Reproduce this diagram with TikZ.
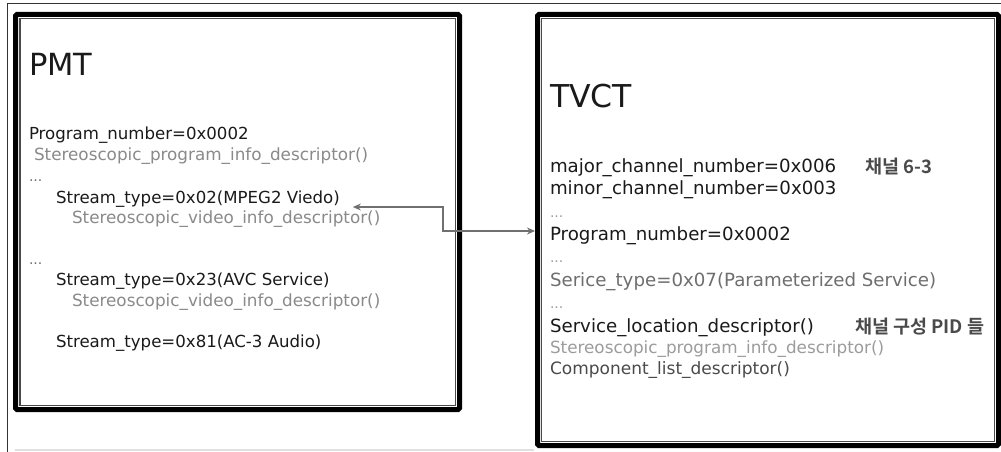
\documentclass[tikz,border=0pt]{standalone}
\usepackage{fontspec}
\setmainfont{DejaVu Sans}
\newfontfamily\kofont{Noto Sans CJK KR}[BoldFont={* Bold}]
\usetikzlibrary{arrows.meta}
\definecolor{txtblack}{HTML}{1A1A1A}
\definecolor{descgray}{HTML}{8A8A8A}
\definecolor{midgray}{HTML}{6E6E6E}
\definecolor{darkgray2}{HTML}{4A4A4A}
\definecolor{lightgray2}{HTML}{9C9C9C}
\definecolor{arrowgray}{HTML}{707070}
\tikzset{
  lbl/.style={anchor=base west, inner sep=0pt, outer sep=0pt, text=txtblack},
  pmtfont/.style={font=\fontsize{16.6}{20}\selectfont},
  tvfont/.style={font=\fontsize{18.2}{22}\selectfont},
  desc/.style={lbl, text=descgray, font=\fontsize{16.8}{20}\selectfont},
  dots/.style={lbl, text=lightgray2, font=\fontsize{14}{16}\selectfont},
  title/.style={lbl, font=\fontsize{30.5}{36}\selectfont},
  ko/.style={lbl, font=\kofont\bfseries\fontsize{18.5}{22}\selectfont, text=darkgray2},
  tablebox/.style={draw=black, line width=5pt, rounded corners=1.5pt, inner sep=0pt},
  innerline/.style={draw=darkgray2, line width=1.4pt},
  link/.style={draw=arrowgray, line width=1.8pt, {Stealth[length=8pt,width=7pt]}-{Stealth[length=8pt,width=7pt]}},
}
\begin{document}
\begin{tikzpicture}[x=1pt,y=-1pt]
\useasboundingbox (0,0) rectangle (1001,452);
\fill[white] (0,0) rectangle (1001,452);
% outer frame
\draw[line width=1pt, black!80] (7,452) -- (7,4) -- (1001,4);
\draw[line width=2pt, black!12] (15,450) -- (534,450);
% boxes
\node[tablebox, minimum width=444pt, minimum height=395pt] (pmt) at (237.5,212) {};
\draw[innerline] ([shift={(6.8,6.8)}]pmt.north west) rectangle ([shift={(-6.8,-6.8)}]pmt.south east);
\node[tablebox, minimum width=461pt, minimum height=431pt] (tvct) at (768,230) {};
\draw[innerline] ([shift={(6.3,6.3)}]tvct.north west) rectangle ([shift={(-6.3,-6.3)}]tvct.south east);
% PMT texts
\node[title] (pmtt) at (29,76) {PMT};
\node[lbl, pmtfont] (pprog) at (29,139) {Program\_number=0x0002};
\node[desc] (pspi) at (34,160) {Stereoscopic\_program\_info\_descriptor()};
\node[dots, text=midgray] (pd1) at (29,181) {...};
\node[lbl, pmtfont] (s02) at (56,203) {Stream\_type=0x02(MPEG2 Viedo)};
\node[desc] (svi1) at (72,223) {Stereoscopic\_video\_info\_descriptor()};
\node[dots, text=midgray] (pd2) at (29,264) {...};
\node[lbl, pmtfont] (s23) at (56,285) {Stream\_type=0x23(AVC Service)};
\node[desc] (svi2) at (72,306) {Stereoscopic\_video\_info\_descriptor()};
\node[lbl, pmtfont] (s81) at (56,347) {Stream\_type=0x81(AC-3 Audio)};
% TVCT texts
\node[title, font=\fontsize{31.5}{36}\selectfont] (tvctt) at (550,107) {TVCT};
\node[lbl, tvfont] (major) at (550,172) {major\_channel\_number=0x006};
\node[ko] (ch) at (865,173) {채널 6-3};
\node[lbl, tvfont] (minor) at (550,194) {minor\_channel\_number=0x003};
\node[dots] (td1) at (550,217) {...};
\node[lbl, tvfont] (tprog) at (550,240) {Program\_number=0x0002};
\node[dots] (td2) at (550,262) {...};
\node[lbl, tvfont, text=midgray] (stype) at (550,286) {Serice\_type=0x07(Parameterized Service)};
\node[dots] (td3) at (550,308) {...};
\node[lbl, tvfont] (sloc) at (550,332) {Service\_location\_descriptor()};
\node[ko] (pid) at (855,333) {채널 구성 PID 들};
\node[desc, text=lightgray2] (tspi) at (550,353) {Stereoscopic\_program\_info\_descriptor()};
\node[lbl, text=darkgray2, font=\fontsize{17}{20}\selectfont] (clist) at (550,374) {Component\_list\_descriptor()};
% connector
\coordinate (elbow) at (443,231);
\draw[link] ([xshift=13pt,yshift=-4pt]s02.base east) -| (elbow) -- (tvct.west |- elbow);
\end{tikzpicture}
\end{document}
